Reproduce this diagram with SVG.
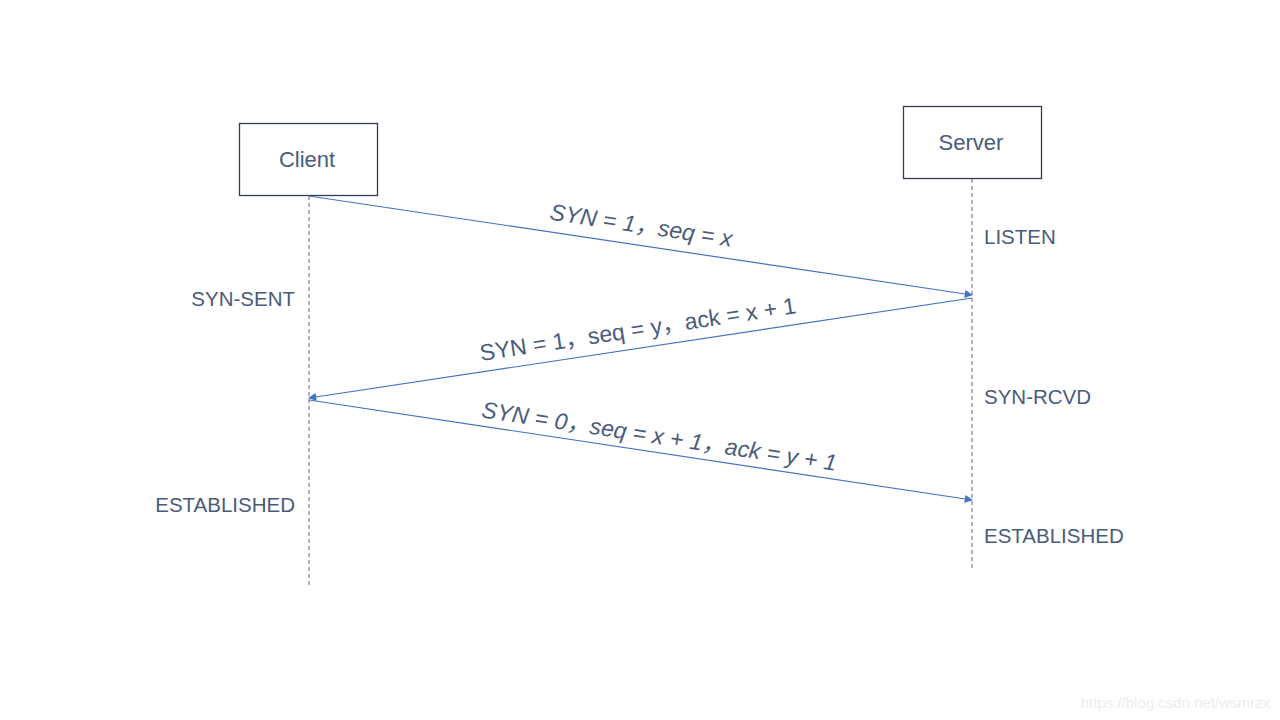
<svg xmlns="http://www.w3.org/2000/svg" width="1280" height="720" viewBox="0 0 1280 720">
<defs>
<style>
.box{fill:#fff;stroke:#2f3e52;stroke-width:1.3}
.t{font-family:"Liberation Sans","Noto Sans CJK SC",sans-serif;font-size:20.5px;fill:#4a5b7b}
.nm{font-family:"Liberation Sans","Noto Sans CJK SC",sans-serif;font-size:22px;fill:#4a5b7b}
.lbl{font-family:"Liberation Sans","Noto Sans CJK SC",sans-serif;font-size:23px;fill:#4a5b7b}
.life{stroke:#5a6b85;stroke-width:1;stroke-dasharray:4,3;fill:none}
.msg{stroke:#4472c4;stroke-width:1.2;fill:none;marker-end:url(#ah)}
</style>
<marker id="ah" viewBox="0 0 10 10" refX="9" refY="5" markerWidth="10" markerHeight="8" markerUnits="userSpaceOnUse" orient="auto">
<path d="M0,0 L10,5 L0,10 Z" fill="#4472c4"/>
</marker>
</defs>
<rect width="1280" height="720" fill="#fff"/>
<g id="lifelines">
<line class="life" x1="309" y1="196" x2="309" y2="585"/>
<line class="life" x1="972" y1="179" x2="972" y2="568"/>
</g>
<g id="client">
<rect class="box" x="239.5" y="123.5" width="138" height="72"/>
<text class="nm" x="307" y="167" text-anchor="middle">Client</text>
</g>
<g id="server">
<rect class="box" x="903.5" y="106.5" width="138" height="72"/>
<text class="nm" x="971" y="150" text-anchor="middle">Server</text>
</g>
<g id="connectors">
<line class="msg" x1="309" y1="196" x2="972" y2="295"/>
<line class="msg" x1="972" y1="298" x2="309" y2="398"/>
<line class="msg" x1="309" y1="400" x2="972" y2="500"/>
</g>
<g id="labels">
<text class="lbl" font-style="italic" text-anchor="middle" transform="translate(640,233) rotate(8.5)">SYN = 1，seq = x</text>
<text class="lbl" text-anchor="middle" transform="translate(639,337) rotate(-8.6)">SYN = 1，seq = y，ack = x + 1</text>
<text class="lbl" font-style="italic" text-anchor="middle" transform="translate(658,444) rotate(8.6)">SYN = 0，seq = x + 1，ack = y + 1</text>
</g>
<g id="states">
<text class="t" x="295" y="306" text-anchor="end">SYN-SENT</text>
<text class="t" x="984" y="244">LISTEN</text>
<text class="t" x="984" y="404">SYN-RCVD</text>
<text class="t" x="295" y="512" text-anchor="end">ESTABLISHED</text>
<text class="t" x="984" y="543">ESTABLISHED</text>
</g>
<text x="1270" y="708" text-anchor="end" font-family="Liberation Sans,sans-serif" font-size="15" fill="#ececec">https://blog.csdn.net/wsmrzx</text>
</svg>
